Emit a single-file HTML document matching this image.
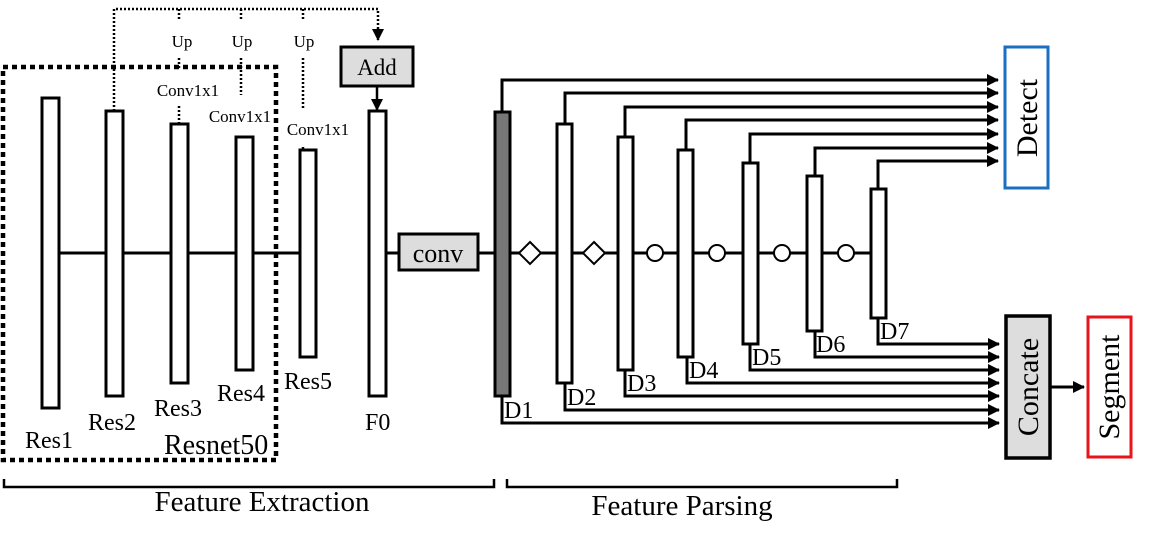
<!DOCTYPE html>
<html><head><style>html,body{margin:0;padding:0;background:#fff}svg{display:block}</style></head>
<body>
<svg width="1158" height="552" viewBox="0 0 1158 552" xmlns="http://www.w3.org/2000/svg" font-family="Liberation Serif, serif">
<defs>
<marker id="ah" markerWidth="12" markerHeight="12" refX="11" refY="6" orient="auto" markerUnits="userSpaceOnUse">
<path d="M0,0 L12,6 L0,12 z" fill="#000"/></marker>
</defs>
<g fill="none" stroke="#000">
<rect x="3" y="67" width="273" height="393" stroke-width="4.5" stroke-dasharray="5,4"/>
<path d="M114,111 V9 H378 V40" stroke-width="2.5" stroke-dasharray="2,2" marker-end="url(#ah)"/>
<path d="M179,9 V20 M179,58 V70 M179,106 V123 M241,9 V20 M241,58 V95 M303,9 V20 M303,58 V110 M303,147 V150" stroke-width="2.5" stroke-dasharray="2,2"/>
<path d="M59,253 H299 M386,253 H494 M510,253 H870" stroke-width="3"/>
<path d="M377,87 V110" stroke-width="2.5" marker-end="url(#ah)"/>
</g>
<g fill="#fff" stroke="#000" stroke-width="3">
<rect x="42" y="98" width="17" height="310"/>
<rect x="106" y="111" width="17" height="285"/>
<rect x="171" y="124" width="17" height="259"/>
<rect x="236" y="137" width="17" height="233"/>
<rect x="300" y="150" width="16" height="207"/>
<rect x="369" y="111" width="17" height="285"/>
<rect x="341" y="47" width="72" height="39" fill="#ddd"/>
<rect x="399" y="234" width="79" height="36" fill="#ddd"/>
<rect x="495" y="112" width="15" height="284" fill="#777"/>
<rect x="557" y="124" width="15" height="259"/>
<rect x="618" y="137" width="15" height="233"/>
<rect x="678" y="150" width="15" height="207"/>
<rect x="743" y="163" width="15" height="181"/>
<rect x="807" y="176" width="15" height="155"/>
<rect x="871" y="189" width="15" height="129"/>
<path d="M530,242 L541,253 L530,264 L519,253 Z" stroke-width="2"/>
<path d="M594,242 L605,253 L594,264 L583,253 Z" stroke-width="2"/>
<circle cx="655" cy="253" r="8" stroke-width="2"/>
<circle cx="717" cy="253" r="8" stroke-width="2"/>
<circle cx="782" cy="253" r="8" stroke-width="2"/>
<circle cx="846" cy="253" r="8" stroke-width="2"/>
<rect x="1006" y="316" width="44" height="142" fill="#ddd" stroke-width="3.5"/>
</g>
<rect x="1005" y="47" width="43" height="141" fill="none" stroke="#1a6fc0" stroke-width="3"/>
<rect x="1088" y="317" width="43" height="140" fill="none" stroke="#e8141b" stroke-width="3"/>
<g fill="none" stroke="#000" stroke-width="3">
<path d="M502,111 V80 H998" marker-end="url(#ah)"/>
<path d="M565,124 V93 H998" marker-end="url(#ah)"/>
<path d="M625,137 V107 H998" marker-end="url(#ah)"/>
<path d="M686,150 V120 H998" marker-end="url(#ah)"/>
<path d="M750,163 V134 H998" marker-end="url(#ah)"/>
<path d="M815,176 V148 H998" marker-end="url(#ah)"/>
<path d="M878,189 V161 H998" marker-end="url(#ah)"/>
<path d="M502,396 V423 H999" marker-end="url(#ah)"/>
<path d="M565,383 V410 H999" marker-end="url(#ah)"/>
<path d="M625,370 V396 H999" marker-end="url(#ah)"/>
<path d="M687,357 V383 H999" marker-end="url(#ah)"/>
<path d="M750,344 V370 H999" marker-end="url(#ah)"/>
<path d="M815,331 V357 H999" marker-end="url(#ah)"/>
<path d="M878,318 V344 H999" marker-end="url(#ah)"/>
<path d="M1050,387 H1084" marker-end="url(#ah)"/>
<path d="M4,479 V487 H494 V479 M507,479 V487 H897 V479" stroke-width="2.5"/>
</g>
<g fill="#000" font-size="24">
<text x="377" y="75" text-anchor="middle" font-size="23">Add</text>
<text x="438" y="262" text-anchor="middle" font-size="26">conv</text>
<g font-size="17" text-anchor="middle">
<text x="182" y="47">Up</text><text x="242" y="47">Up</text><text x="304" y="47">Up</text>
<text x="188" y="96">Conv1x1</text><text x="240" y="122">Conv1x1</text><text x="318" y="135">Conv1x1</text>
</g>
<text x="25" y="448">Res1</text>
<text x="88" y="430">Res2</text>
<text x="154" y="416">Res3</text>
<text x="217" y="401">Res4</text>
<text x="284" y="389">Res5</text>
<text x="365" y="430">F0</text>
<text x="164" y="454" font-size="28">Resnet50</text>
<g font-size="24">
<text x="504" y="418">D1</text><text x="567" y="405">D2</text><text x="627" y="391">D3</text>
<text x="689" y="378">D4</text><text x="752" y="365">D5</text><text x="816" y="352">D6</text><text x="880" y="339">D7</text>
</g>
<text x="262" y="511" font-size="29" text-anchor="middle">Feature Extraction</text>
<text x="682" y="515" font-size="29" text-anchor="middle">Feature Parsing</text>
<text transform="translate(1037,118) rotate(-90)" font-size="30" text-anchor="middle">Detect</text>
<text transform="translate(1038,387) rotate(-90)" font-size="30" text-anchor="middle">Concate</text>
<text transform="translate(1119,387) rotate(-90)" font-size="30" text-anchor="middle">Segment</text>
</g>
</svg>
</body></html>
